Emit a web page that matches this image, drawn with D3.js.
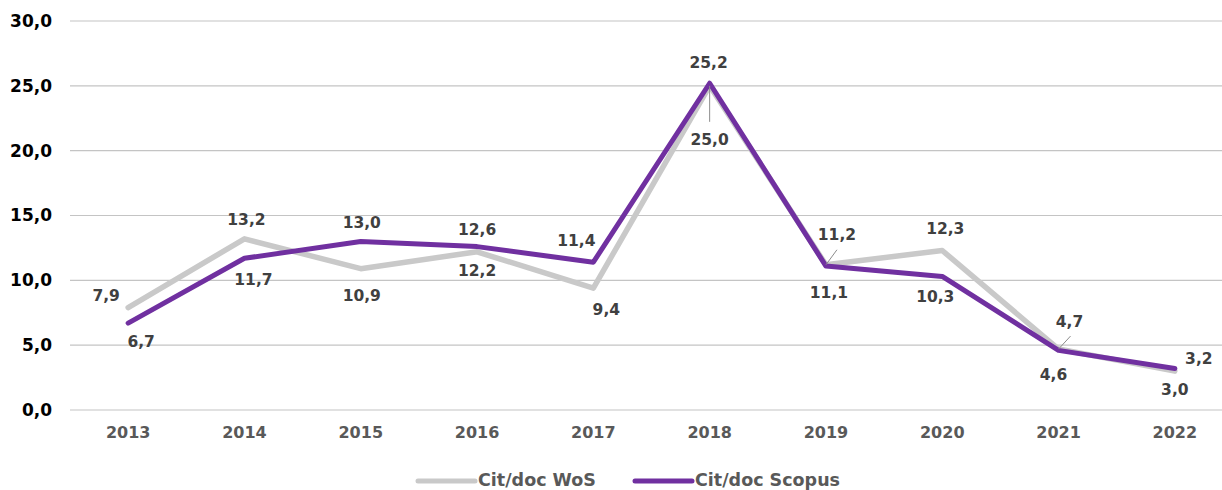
<!DOCTYPE html>
<html>
<head>
<meta charset="utf-8">
<script src="https://cdn.jsdelivr.net/npm/d3@7"></script>
<style>
  html, body { margin: 0; padding: 0; background: #fff; }
  svg { display: block; }
  text { font-family: "DejaVu Sans", sans-serif; font-weight: bold; }
</style>
</head>
<body>
<svg id="chart" width="1222" height="490"></svg>
<script>
// ---- Data ----
const years = ["2013","2014","2015","2016","2017","2018","2019","2020","2021","2022"];
const wos    = [7.9, 13.2, 10.9, 12.2, 9.4, 25.0, 11.2, 12.3, 4.7, 3.0];
const scopus = [6.7, 11.7, 13.0, 12.6, 11.4, 25.2, 11.1, 10.3, 4.6, 3.2];
const seriesNames = ["Cit/doc WoS", "Cit/doc Scopus"];
const yTicks = [0, 5, 10, 15, 20, 25, 30];

// ---- Label layout (offsets of label centre from its point, px) ----
const wosLabelOffsets = [[-22,-12],[2,-19],[1,27],[0,19],[13,22],[0,54],[11,-30],[3,-22],[11,-27],[0,19]];
const scopusLabelOffsets = [[13,19],[9,22],[1,-18],[0,-17],[-17,-21],[-1,-20],[3,27],[-7,21],[-5,25],[24,-10]];
const wosLeaders = [null,null,null,null,null,[0,36],[11,-15],null,[12,-13],null];

const colors = { wos: "#c9c9c9", scopus: "#7030a0" };
const fmt = v => d3.format(".1f")(v).replace(".", ",");

const svg = d3.select("#chart");
const x = d3.scaleBand().domain(years).range([70, 1233]).paddingInner(0).paddingOuter(0);
const y = d3.scaleLinear().domain([0, 30]).range([410, 21]);
const cx = d => x(d) + x.bandwidth() / 2;

// gridlines
svg.append("g").selectAll("line").data(yTicks).join("line")
  .attr("x1", 70).attr("x2", 1233)
  .attr("y1", d => y(d)).attr("y2", d => y(d))
  .attr("stroke", "#c4c4c4").attr("stroke-width", 1.2);

// y-axis labels
const yAxis = d3.axisLeft(y).tickValues(yTicks).tickSize(0).tickPadding(0).tickFormat(fmt);
const gy = svg.append("g").attr("transform", "translate(52,0)").call(yAxis);
gy.select(".domain").remove();
gy.selectAll("text").attr("font-size", 17).attr("fill", "#000")
  .style("font-family", "DejaVu Sans").style("font-weight", "bold");

// x-axis labels
const xAxis = d3.axisBottom(x).tickSize(0).tickPadding(0);
const gx = svg.append("g").attr("transform", "translate(0,427)").call(xAxis);
gx.select(".domain").remove();
gx.selectAll("text").attr("font-size", 16).attr("fill", "#595959")
  .style("font-family", "DejaVu Sans").style("font-weight", "bold");

// lines
const line = d3.line().x((d, i) => cx(years[i])).y(d => y(d));
svg.append("path").datum(wos).attr("d", line)
  .attr("fill", "none").attr("stroke", colors.wos).attr("stroke-width", 5.5)
  .attr("stroke-linejoin", "round").attr("stroke-linecap", "round");
svg.append("path").datum(scopus).attr("d", line)
  .attr("fill", "none").attr("stroke", colors.scopus).attr("stroke-width", 5)
  .attr("stroke-linejoin", "round").attr("stroke-linecap", "round");

// leader lines
svg.append("g").selectAll("line").data(wos.map((v, i) => ({v, i, l: wosLeaders[i]})).filter(d => d.l))
  .join("line")
  .attr("x1", d => cx(years[d.i])).attr("y1", d => y(d.v))
  .attr("x2", d => cx(years[d.i]) + d.l[0]).attr("y2", d => y(d.v) + d.l[1])
  .attr("stroke", "#8c8c8c").attr("stroke-width", 1);

// data labels
function labels(values, offsets) {
  svg.append("g").selectAll("text").data(values).join("text")
    .attr("x", (d, i) => cx(years[i]) + offsets[i][0])
    .attr("y", (d, i) => y(d) + offsets[i][1])
    .attr("text-anchor", "middle").attr("dominant-baseline", "central")
    .attr("font-size", 15.5).attr("fill", "#404040")
    .text(d => fmt(d));
}
labels(wos, wosLabelOffsets);
labels(scopus, scopusLabelOffsets);

// legend
const legend = svg.append("g");
const legendItems = [
  { name: seriesNames[0], color: colors.wos, x0: 418 },
  { name: seriesNames[1], color: colors.scopus, x0: 635 }
];
legendItems.forEach(it => {
  legend.append("line").attr("x1", it.x0).attr("x2", it.x0 + 57)
    .attr("y1", 481).attr("y2", 481)
    .attr("stroke", it.color).attr("stroke-width", 5).attr("stroke-linecap", "round");
  legend.append("text").attr("x", it.x0 + 60).attr("y", 480)
    .attr("dominant-baseline", "central")
    .attr("font-size", 17.5).attr("fill", "#595959").text(it.name);
});
</script>
</body>
</html>
